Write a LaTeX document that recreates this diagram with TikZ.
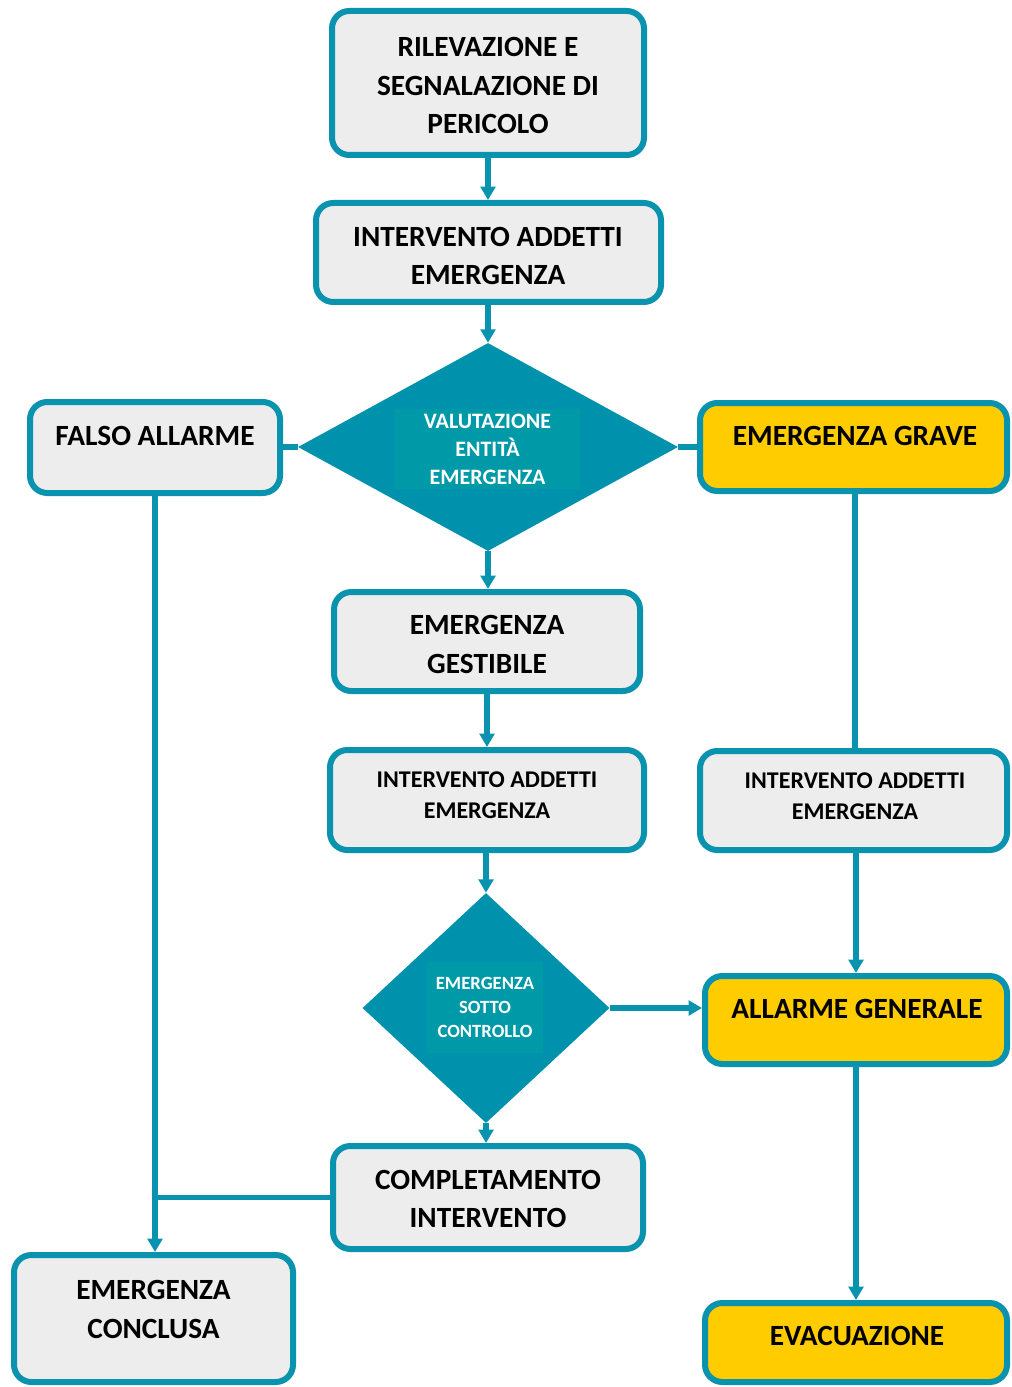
\documentclass[tikz,border=0pt]{standalone}
\usepackage{fontspec}
\setmainfont{Carlito}
\usetikzlibrary{shapes.geometric,arrows.meta}
\definecolor{tealB}{HTML}{0A93AF}
\definecolor{diaF}{HTML}{0091AD}
\definecolor{diaI}{HTML}{0099A8}
\definecolor{grayF}{HTML}{EDEDED}
\definecolor{yel}{HTML}{FFCC00}
\begin{document}
\begin{tikzpicture}[x=0.75pt,y=-0.75pt,
  box/.style={draw=tealB, line width=4.5pt, rounded corners=13pt, fill=grayF, inner sep=0pt},
  ybox/.style={box, fill=yel},
  sz/.style 2 args={minimum width=#1*0.75pt, minimum height=#2*0.75pt},
  lbl/.style={align=center, font=\bfseries\fontsize{22}{29}\selectfont, inner sep=0pt},
  midtxt/.style={lbl, font=\bfseries\fontsize{18}{23.25}\selectfont},
  dia/.style={diamond, fill=diaF, draw=none, inner sep=0pt},
  dtext/.style={fill=diaI, text=white, align=center, inner sep=0pt},
  conn/.style={draw=tealB, line width=4pt},
  arr/.style={conn, -{Triangle[width=11pt,length=10pt]}}
]
\useasboundingbox (0,0) rectangle (1012,1387);

% boxes
\node[box, sz={312}{144}] (rile) at (488,83) {};
\node[lbl] (rileT) at (488,85.5) {RILEVAZIONE E\\SEGNALAZIONE DI\\PERICOLO};
\node[box, sz={345}{99}] (int1) at (488.5,252.5) {};
\node[lbl] (int1T) at (488,256) {INTERVENTO ADDETTI\\EMERGENZA};
\node[box, sz={250}{91}] (falso) at (155,447.5) {};
\node[lbl] (falsoT) at (155,436) {FALSO ALLARME};
\node[ybox, sz={307}{88}] (grave) at (853.5,447) {};
\node[lbl] (graveT) at (855,436) {EMERGENZA GRAVE};
\node[box, sz={306}{99}] (gest) at (487,641.5) {};
\node[lbl] (gestT) at (487,644.5) {EMERGENZA\\GESTIBILE};
\node[box, sz={314}{100}] (int2) at (487,800) {};
\node[midtxt] (int2T) at (487,795.5) {INTERVENTO ADDETTI\\EMERGENZA};
\node[box, sz={307}{99}] (int3) at (853.5,800.5) {};
\node[midtxt] (int3T) at (855,796.5) {INTERVENTO ADDETTI\\EMERGENZA};
\node[ybox, sz={302}{88}] (allg) at (856,1020) {};
\node[lbl] (allgT) at (857,1009) {ALLARME GENERALE};
\node[box, sz={310}{103}] (compl) at (488,1197.5) {};
\node[lbl] (complT) at (488,1199) {COMPLETAMENTO\\INTERVENTO};
\node[box, sz={279}{127}] (concl) at (153.5,1318.5) {};
\node[lbl] (conclT) at (153.5,1309.5) {EMERGENZA\\CONCLUSA};
\node[ybox, sz={302}{79}] (evac) at (856,1342.5) {};
\node[lbl] (evacT) at (857,1336) {EVACUAZIONE};

% diamonds
\node[dia, sz={380}{208}] (d1) at (488,447) {};
\node[dtext, sz={185}{80}, font=\bfseries\fontsize{16.5}{21}\selectfont] (d1T) at (487.5,449) {VALUTAZIONE\\ENTITÀ\\EMERGENZA};
\node[dia, sz={247}{230}] (d2) at (486,1008) {};
\node[dtext, sz={116}{91}, font=\bfseries\fontsize{14}{18}\selectfont] (d2T) at (485,1007.5) {EMERGENZA\\SOTTO\\CONTROLLO};

% connectors
\draw[arr] (rile.south) -- (int1.north -| rile.south);
\draw[arr] (int1.south -| d1.north) -- (d1.north);
\draw[conn] (d1.west) -- (d1.west -| falso.east);
\draw[conn] (d1.east) -- (d1.east -| grave.west);
\draw[arr] (d1.south) -- (gest.north -| d1.south);
\draw[arr] (gest.south) -- (int2.north);
\draw[arr] (int2.south -| d2.north) -- (d2.north);
\draw[conn] (grave.south -| 855,0) -- (int3.north -| 855,0);
\draw[arr] (int3.south -| allg.north) -- (allg.north);
\draw[arr] (d2.east) -- (d2.east -| allg.west);
\draw[arr] (d2.south) -- (compl.north -| d2.south);
\draw[arr] (falso.south) -- (falso.south |- concl.north);
\draw[conn] (compl.west) -- (compl.west -| falso.south);
\draw[arr] (allg.south) -- (evac.north);
\end{tikzpicture}
\end{document}
